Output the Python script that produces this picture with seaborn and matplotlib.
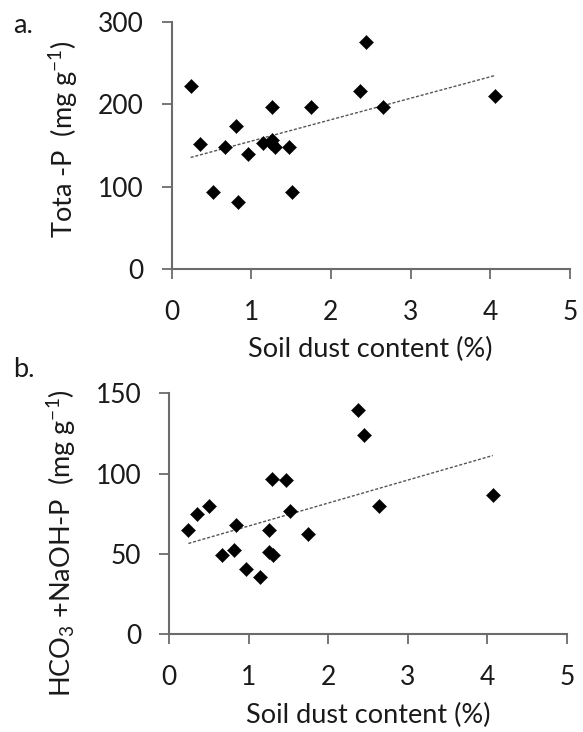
import numpy as np
import pandas as pd
import matplotlib
matplotlib.use("Agg")
import matplotlib.pyplot as plt
import seaborn as sns

# ---- data ----
dust_a = [0.24, 0.36, 0.52, 0.675, 0.805, 0.83, 0.955, 1.144, 1.26, 1.25,
          1.26, 1.30, 1.47, 1.51, 1.745, 2.37, 2.44, 2.65, 4.055]
total_p = [222, 152, 93, 148, 174, 81, 140, 153, 196, 153,
           157, 148, 148, 93, 196, 216, 275, 196, 210]

dust_b = [0.24, 0.35, 0.50, 0.66, 0.81, 0.835, 0.965, 1.14, 1.26, 1.25,
          1.30, 1.295, 1.47, 1.52, 1.75, 2.38, 2.445, 2.64, 4.07]
hco3_naoh_p = [64.8, 74.8, 79.8, 49.0, 52.2, 68.0, 40.5, 35.7, 64.8, 51.1,
               49.0, 96.8, 96.0, 76.7, 62.3, 139.6, 124.1, 79.8, 86.5]

x_ticks = [0, 1, 2, 3, 4, 5]
y_ticks_a = [0, 100, 200, 300]
y_ticks_b = [0, 50, 100, 150]
x_label = "Soil dust content (%)"
y_label_a = r"Tota -P  (mg g$^{-1}$)"
y_label_b = r"HCO$_3$ +NaOH-P  (mg g$^{-1}$)"
panel_labels = ["a.", "b."]

df_a = pd.DataFrame({"dust": dust_a, "val": total_p})
df_b = pd.DataFrame({"dust": dust_b, "val": hco3_naoh_p})

sns.set_style("ticks")
FONT = "Lato"
plt.rcParams["font.family"] = [FONT, "DejaVu Sans"]
plt.rcParams["mathtext.fontset"] = "custom"
plt.rcParams["mathtext.rm"] = FONT
plt.rcParams["mathtext.it"] = FONT
plt.rcParams["mathtext.default"] = "regular"

W, H = 583, 732
fig = plt.figure(figsize=(W / 100, H / 100), dpi=100)

spine_col = "#6b6b6b"
fs_tick = 19
fs_label = 19.5
text_col = "#1a1a1a"


def make_panel(rect, df, yticks, ylim, ylabel, xlab_y, ylab_y, plabel, plabel_base):
    ax = fig.add_axes(rect)
    sns.regplot(data=df, x="dust", y="val", ax=ax, scatter=False, ci=None,
                truncate=True,
                line_kws=dict(color="#555555", lw=1.0, ls=(0, (2.2, 1.3))))
    sns.scatterplot(data=df, x="dust", y="val", ax=ax, marker="D", s=52,
                    color="black", edgecolor="black", linewidth=0.3, zorder=3)
    ax.set_xlim(0, 5)
    ax.set_ylim(*ylim)
    ax.set_xticks(x_ticks)
    ax.set_yticks(yticks)
    ax.set_xticklabels([str(t) for t in x_ticks])
    ax.set_yticklabels([str(t) for t in yticks])
    for s in ["top", "right"]:
        ax.spines[s].set_visible(False)
    for s in ["left", "bottom"]:
        ax.spines[s].set_color(spine_col)
        ax.spines[s].set_linewidth(1.5)
    ax.tick_params(axis="both", direction="out", length=7.2, width=1.3,
                   color=spine_col, labelsize=fs_tick, labelcolor=text_col)
    ax.tick_params(axis="x", pad=15)
    ax.tick_params(axis="y", pad=13)
    ax.set_xlabel(x_label, fontsize=fs_label, color=text_col)
    ax.set_ylabel(ylabel, fontsize=fs_label, color=text_col)
    ax.xaxis.set_label_coords(0.5, xlab_y)
    ax.yaxis.set_label_coords(-0.23, ylab_y)
    fig.text(13 / W, 1 - plabel_base / H, plabel, fontsize=fs_label,
             ha="left", va="baseline", color=text_col)
    return ax


ax_a = make_panel([171.5 / W, 1 - 269 / H, 398.5 / W, 247.3 / H],
                  df_a, y_ticks_a, (0, 300), y_label_a, -0.275, 0.526,
                  panel_labels[0], 33)
ax_b = make_panel([169.3 / W, 1 - 634 / H, 397.4 / W, 240.7 / H],
                  df_b, y_ticks_b, (0, 150), y_label_b, -0.287, 0.376,
                  panel_labels[1], 377)

fig.savefig("out.png", dpi=100)
